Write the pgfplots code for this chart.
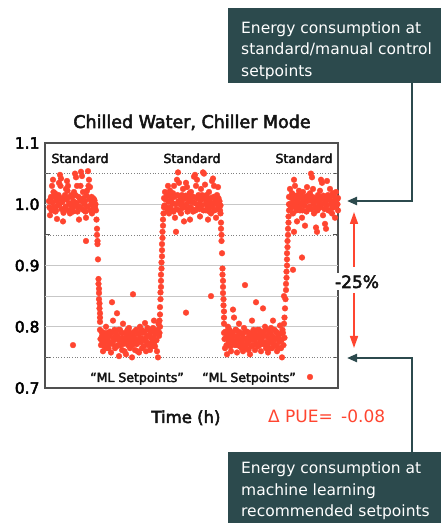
\documentclass[border=0pt]{standalone}
\usepackage{pgfplots}
\pgfplotsset{compat=1.18}
\usepackage{fontspec}
\setmainfont{DejaVu Sans}
\newfontfamily\medfont[FakeBold=3]{DejaVu Sans}
\usetikzlibrary{arrows.meta}
\definecolor{dotred}{HTML}{FF4530}
\definecolor{teal}{HTML}{2C4A4D}
\definecolor{frame}{HTML}{505050}
\newcommand{\fs}[1]{\fontsize{#1}{#1}\selectfont}
\pgfplotsset{dots/.style={only marks, mark=*, color=dotred, mark size=2.9bp, mark options={line width=0.3bp}}}
\begin{document}
\begin{tikzpicture}
\path[use as bounding box] (0,0) rectangle (441bp,523bp);
\begin{axis}[
  at={(45bp,135bp)}, anchor=south west,
  scale only axis, width=293bp, height=245bp,
  xmin=45, xmax=338, ymin=0.7, ymax=1.1,
  xtick=\empty,
  ytick={0.7,0.75,0.8,0.85,0.9,0.95,1.0,1.05,1.1},
  yticklabels={0.7,,0.8,,0.9,,1.0,,1.1},
  ytick pos=both, tick align=inside, major tick length=5bp,
  major tick style={frame, line width=1.2bp},
  axis line style={frame, line width=1.3bp},
  yticklabel style={font=\medfont\fs{15.5bp}, text=black, xshift=-2bp},
  /pgf/number format/assume math mode=true,
  clip=true,
]
\draw[black!22, line width=1bp] (axis cs:45,1.0) -- (axis cs:338,1.0);
\draw[black!22, line width=1bp] (axis cs:45,0.9) -- (axis cs:338,0.9);
\draw[black!22, line width=1bp] (axis cs:45,0.85) -- (axis cs:338,0.85);
\draw[black!22, line width=1bp] (axis cs:45,0.8) -- (axis cs:338,0.8);
\draw[black!50, line width=0.7bp, dotted] (axis cs:45,1.05) -- (axis cs:338,1.05);
\draw[black!50, line width=0.7bp, dotted] (axis cs:45,0.95) -- (axis cs:338,0.95);
\draw[black!50, line width=0.7bp, dotted] (axis cs:45,0.75) -- (axis cs:338,0.75);
% Standard 1
\addplot[dots] coordinates {
(49,1.005)(50,0.982)(51,1.012)(52,1.030)(53,1.040)(54,0.995)(55,1.018)(56,0.990)(57,0.976)(58,1.008)
(59,1.035)(60,1.048)(61,1.042)(62,1.010)(63,0.972)(64,0.992)(65,1.015)(66,1.025)(67,1.038)(68,1.030)
(69,1.002)(70,0.985)(71,0.998)(72,1.012)(73,0.988)(74,1.020)(75,1.050)(76,1.044)(77,1.030)(78,0.996)
(79,0.975)(80,1.008)(81,1.053)(82,1.046)(83,1.020)(84,0.990)(85,1.005)(86,0.978)(87,1.022)(88,1.054)
(89,1.040)(90,1.028)(91,1.000)(92,0.985)(93,1.010)(94,1.008)(95,0.995)
(49.5,0.995)(50.5,1.008)(51.5,0.990)(52.5,1.003)(53.5,1.020)(54.5,1.012)(55.5,0.988)(56.5,1.006)(57.5,0.998)
(58.5,1.015)(59.5,1.000)(60.5,1.030)(61.5,0.992)(62.5,1.004)(63.5,0.986)(64.5,1.010)(65.5,0.996)(66.5,1.008)
(67.5,1.022)(68.5,0.990)(69.5,1.012)(70.5,1.000)(71.5,1.015)(72.5,0.993)(73.5,1.005)(74.5,0.997)(75.5,1.015)
(76.5,1.002)(77.5,0.988)(78.5,1.012)(79.5,0.996)(80.5,1.030)(81.5,1.005)(82.5,0.992)(83.5,1.010)(84.5,1.000)
(85.5,0.988)(86.5,1.014)(87.5,0.996)(88.5,1.030)(89.5,1.008)(90.5,0.990)(91.5,1.012)(92.5,1.002)(93.5,0.994)
(94.5,1.006)(95.5,1.000)(86,0.940)
};
% Drop 1
\addplot[dots] coordinates {
(96,0.990)(96.5,0.975)(97,0.960)(97,0.950)(97.5,0.940)(97.5,0.935)(98,0.910)(98.5,0.878)(98.5,0.870)
(99,0.862)(99,0.855)(99,0.845)(99.5,0.838)(99.5,0.830)(100,0.822)(100,0.815)(100,0.808)
};
% ML 1
\addplot[dots] coordinates {
(100,0.795)(101,0.770)(102,0.785)(103,0.760)(104,0.790)(105,0.775)(106,0.800)(107,0.765)(108,0.782)(109,0.772)
(110,0.792)(111,0.758)(112,0.840)(113,0.810)(114,0.778)(115,0.765)(116,0.788)(117,0.822)(118,0.770)(119,0.752)
(120,0.795)(121,0.780)(122,0.762)(123,0.805)(124,0.775)(125,0.790)(126,0.755)(127,0.782)(128,0.770)(129,0.798)
(130,0.765)(131,0.785)(132,0.750)(133,0.853)(134,0.778)(135,0.762)(136,0.795)(137,0.772)(138,0.788)(139,0.758)
(140,0.800)(141,0.775)(142,0.765)(143,0.790)(144,0.780)(145,0.806)(146,0.760)(147,0.785)(148,0.770)(149,0.795)
(150,0.762)(151,0.782)(152,0.775)(153,0.798)(154,0.810)(155,0.768)(156,0.790)(157,0.760)(158,0.750)(159,0.785)(160,0.800)
(100.5,0.780)(101.5,0.792)(102.5,0.775)(103.5,0.783)(104.5,0.768)(105.5,0.785)(106.5,0.778)(107.5,0.790)(108.5,0.765)
(109.5,0.785)(110.5,0.775)(111.5,0.790)(112.5,0.772)(113.5,0.782)(114.5,0.795)(115.5,0.780)(116.5,0.768)(117.5,0.785)
(118.5,0.795)(119.5,0.778)(120.5,0.770)(121.5,0.790)(122.5,0.782)(123.5,0.772)(124.5,0.760)(125.5,0.778)(126.5,0.788)
(127.5,0.795)(128.5,0.780)(129.5,0.772)(130.5,0.790)(131.5,0.778)(132.5,0.770)(133.5,0.785)(134.5,0.792)(135.5,0.780)
(136.5,0.772)(137.5,0.760)(138.5,0.778)(139.5,0.790)(140.5,0.782)(141.5,0.795)(142.5,0.778)(143.5,0.768)(144.5,0.792)
(145.5,0.780)(146.5,0.775)(147.5,0.798)(148.5,0.785)(149.5,0.772)(150.5,0.790)(151.5,0.768)(152.5,0.795)(153.5,0.782)
(154.5,0.775)(155.5,0.788)(156.5,0.778)(157.5,0.795)(158.5,0.805)(159.5,0.790)
(73,0.770)
};
% Rise 1
\addplot[dots] coordinates {
(159.5,0.810)(160,0.820)(160,0.832)(160.5,0.845)(160.5,0.856)(161,0.865)(161,0.875)(161,0.885)(161.5,0.895)
(161.5,0.905)(162,0.915)(162,0.925)(162,0.935)(162.5,0.945)(162.5,0.955)(163,0.965)(163,0.975)(163.5,0.985)(164,0.995)
};
% Standard 2
\addplot[dots] coordinates {
(164,1.010)(165,1.020)(166,0.995)(167,1.015)(168,1.030)(169,0.985)(170,1.022)(171,1.005)(172,0.990)(173,1.018)
(174,1.030)(175,0.978)(176,0.955)(177,1.040)(178,1.052)(179,1.035)(180,1.000)(181,0.985)(182,1.015)(183,1.025)
(184,0.972)(185,1.010)(186,1.035)(187,1.028)(188,0.992)(189,1.005)(190,0.975)(191,1.020)(192,1.012)(193,0.988)
(194,1.045)(195,1.048)(196,1.030)(197,1.040)(198,0.995)(199,1.010)(200,0.980)(201,1.025)(202,1.015)(203,1.052)
(204,1.050)(205,1.032)(206,0.990)(207,1.010)(208,0.975)(209,1.020)(210,1.000)(211,0.985)(212,1.038)(213,1.042)
(214,1.030)(215,1.008)(216,0.978)(217,1.015)(218,1.028)(219,1.000)(220,0.990)
(164.5,0.998)(165.5,1.008)(166.5,1.012)(167.5,0.990)(168.5,1.004)(169.5,1.015)(170.5,0.995)(171.5,1.010)(172.5,1.002)
(173.5,0.988)(174.5,1.012)(175.5,1.000)(176.5,0.992)(177.5,1.015)(178.5,1.005)(179.5,0.990)(180.5,1.012)(181.5,1.002)
(182.5,0.994)(183.5,1.008)(184.5,0.996)(185.5,1.014)(186.5,1.000)(187.5,0.988)(188.5,1.010)(189.5,1.018)(190.5,0.995)
(191.5,1.004)(192.5,0.992)(193.5,1.012)(194.5,1.002)(195.5,0.990)(196.5,1.010)(197.5,1.000)(198.5,1.015)(199.5,0.992)
(200.5,1.006)(201.5,0.998)(202.5,1.012)(203.5,0.990)(204.5,1.008)(205.5,1.000)(206.5,1.015)(207.5,0.994)(208.5,1.004)
(209.5,0.988)(210.5,1.010)(211.5,1.002)(212.5,0.995)(213.5,1.012)(214.5,0.990)(215.5,1.005)(216.5,1.000)(217.5,0.992)
(218.5,1.010)(219.5,1.005)(220.5,0.998)
};
% Drop 2 and outliers
\addplot[dots] coordinates {
(220.5,0.985)(221,0.970)(221,0.960)(221.5,0.950)(221.5,0.940)(222,0.920)(222.5,0.895)(222.5,0.885)(223,0.875)
(223,0.865)(223,0.855)(223.5,0.845)(223.5,0.835)(224,0.825)(224,0.815)(224,0.805)
(211,0.850)(186,0.823)(245,0.868)
};
% ML 2
\addplot[dots] coordinates {
(224,0.790)(225,0.765)(226,0.782)(227,0.755)(228,0.800)(229,0.772)(230,0.788)(231,0.760)(232,0.778)(233,0.828)
(234,0.815)(235,0.770)(236,0.795)(237,0.758)(238,0.785)(239,0.805)(240,0.768)(241,0.790)(242,0.775)(243,0.760)
(244,0.798)(245,0.780)(246,0.765)(247,0.792)(248,0.772)(249,0.785)(250,0.755)(251,0.780)(252,0.810)(253,0.770)
(254,0.792)(255,0.762)(256,0.840)(257,0.782)(258,0.768)(259,0.795)(260,0.775)(261,0.760)(262,0.788)(263,0.830)
(264,0.772)(265,0.800)(266,0.765)(267,0.785)(268,0.758)(269,0.790)(270,0.775)(271,0.798)(272,0.765)(273,0.810)
(274,0.780)(275,0.770)(276,0.792)(277,0.760)(278,0.785)(279,0.775)(280,0.802)(281,0.765)(282,0.750)(283,0.790)(284,0.805)
(224.5,0.780)(225.5,0.792)(226.5,0.770)(227.5,0.785)(228.5,0.778)(229.5,0.795)(230.5,0.768)(231.5,0.782)(232.5,0.790)
(233.5,0.775)(234.5,0.785)(235.5,0.795)(236.5,0.778)(237.5,0.770)(238.5,0.792)(239.5,0.780)(240.5,0.775)(241.5,0.765)
(242.5,0.788)(243.5,0.782)(244.5,0.770)(245.5,0.792)(246.5,0.780)(247.5,0.775)(248.5,0.762)(249.5,0.790)(250.5,0.778)
(251.5,0.768)(252.5,0.785)(253.5,0.795)(254.5,0.778)(255.5,0.788)(256.5,0.772)(257.5,0.795)(258.5,0.785)(259.5,0.770)
(260.5,0.790)(261.5,0.780)(262.5,0.772)(263.5,0.792)(264.5,0.785)(265.5,0.775)(266.5,0.795)(267.5,0.770)(268.5,0.782)
(269.5,0.765)(270.5,0.790)(271.5,0.778)(272.5,0.785)(273.5,0.772)(274.5,0.795)(275.5,0.780)(276.5,0.768)(277.5,0.790)
(278.5,0.782)(279.5,0.765)(280.5,0.788)(281.5,0.778)(282.5,0.795)(283.5,0.770)(284.5,0.782)
};
% Rise 2
\addplot[dots] coordinates {
(284.5,0.815)(285,0.830)(284,0.850)(285.5,0.845)(286,0.860)(286,0.870)(286.5,0.880)(286.5,0.890)(287,0.900)
(287,0.910)(287,0.920)(287.5,0.930)(287.5,0.940)(288,0.950)(288,0.960)(288.5,0.970)(288.5,0.980)(289,0.990)(289,1.000)
(293,0.893)(302,0.913)(294,0.955)
};
% Standard 3
\addplot[dots] coordinates {
(289,1.012)(290,1.025)(291,0.995)(292,1.018)(293,0.985)(294,1.040)(295,1.030)(296,1.000)(297,0.972)(298,1.015)
(299,1.022)(300,0.990)(301,1.010)(302,0.978)(303,1.020)(304,1.005)(305,0.965)(306,1.012)(307,1.028)(308,0.992)
(309,1.010)(310,1.018)(311,1.050)(312,1.044)(313,1.025)(314,0.985)(315,1.005)(316,0.962)(317,0.955)(318,1.015)
(319,0.998)(320,1.022)(321,1.040)(322,1.035)(323,0.982)(324,1.010)(325,0.968)(326,0.960)(327,1.038)(328,1.015)
(329,0.990)(330,1.025)(331,1.005)(332,0.985)(333,1.018)(334,1.000)(335,0.978)(336,1.020)(337,1.008)
(289.5,1.000)(290.5,0.992)(291.5,1.010)(292.5,1.002)(293.5,1.015)(294.5,0.996)(295.5,1.008)(296.5,0.990)(297.5,1.004)
(298.5,1.012)(299.5,0.995)(300.5,1.015)(301.5,1.002)(302.5,0.990)(303.5,1.010)(304.5,0.998)(305.5,1.012)(306.5,0.988)
(307.5,1.005)(308.5,1.015)(309.5,0.996)(310.5,1.006)(311.5,0.992)(312.5,1.012)(313.5,1.000)(314.5,1.010)(315.5,0.994)
(316.5,1.008)(317.5,0.990)(318.5,1.004)(319.5,1.012)(320.5,0.995)(321.5,1.008)(322.5,1.000)(323.5,1.014)(324.5,0.992)
(325.5,1.005)(326.5,0.998)(327.5,1.012)(328.5,0.990)(329.5,1.008)(330.5,1.000)(331.5,1.015)(332.5,0.994)(333.5,1.004)
(334.5,1.012)(335.5,0.996)(336.5,1.008)(337.5,1.000)(338,1.010)(338,0.990)
};
% legend marker
\addplot[dots] coordinates {(310,0.718)};
\end{axis}
% texts
\node[anchor=base, font=\medfont\fs{17.5bp}, text=black!92] at (192bp,395bp) {Chilled Water, Chiller Mode};
\node[anchor=base, font=\medfont\fs{12.5bp}, text=black!92] at (80bp,360bp) {Standard};
\node[anchor=base, font=\medfont\fs{12.5bp}, text=black!92] at (192bp,360bp) {Standard};
\node[anchor=base, font=\medfont\fs{12.5bp}, text=black!92] at (304bp,360bp) {Standard};
\node[anchor=base, font=\medfont\fs{12.5bp}, text=black!92] at (137bp,141bp) {“ML Setpoints”};
\node[anchor=base, font=\medfont\fs{12.5bp}, text=black!92] at (249bp,141bp) {“ML Setpoints”};
\node[anchor=base, font=\medfont\fs{16.5bp}, text=black!92] at (186bp,100bp) {Time (h)};
\node[anchor=base west, font=\fs{17bp}, text=dotred, inner sep=0pt] at (268bp,100bp) {Δ PUE=\, -0.08};
\node[anchor=base, font=\medfont\fs{17bp}, text=black!92, fill=white, inner sep=2bp] at (357bp,235bp) {-25\%};
% red arrows
\draw[dotred, line width=1.6bp, -{Triangle[length=12bp,width=8bp]}] (354bp,256bp) -- (354bp,311bp);
\draw[dotred, line width=1.6bp, -{Triangle[length=12bp,width=8bp]}] (354bp,230bp) -- (354bp,175bp);
% teal boxes
\fill[teal] (228bp,440bp) rectangle (441bp,515bp);
\fill[teal] (228bp,0bp) rectangle (441bp,71bp);
\node[anchor=base west, font=\fs{15.5bp}, text=white, inner sep=0pt] at (241bp,489.5bp) {Energy consumption at};
\node[anchor=base west, font=\fs{15.5bp}, text=white, inner sep=0pt] at (241bp,468bp) {standard/manual control};
\node[anchor=base west, font=\fs{15.5bp}, text=white, inner sep=0pt] at (241bp,446.5bp) {setpoints};
\node[anchor=base west, font=\fs{15.5bp}, text=white, inner sep=0pt] at (241bp,49bp) {Energy consumption at};
\node[anchor=base west, font=\fs{15.5bp}, text=white, inner sep=0pt] at (241bp,28bp) {machine learning};
\node[anchor=base west, font=\fs{15.5bp}, text=white, inner sep=0pt] at (241bp,7bp) {recommended setpoints};
% connectors
\draw[teal, line width=2.2bp, -{Triangle[length=10bp,width=8bp]}] (412bp,440bp) -- (412bp,322bp) -- (347bp,322bp);
\draw[teal, line width=2.2bp, -{Triangle[length=10bp,width=8bp]}] (412bp,71bp) -- (412bp,165bp) -- (347bp,165bp);
\end{tikzpicture}
\end{document}
